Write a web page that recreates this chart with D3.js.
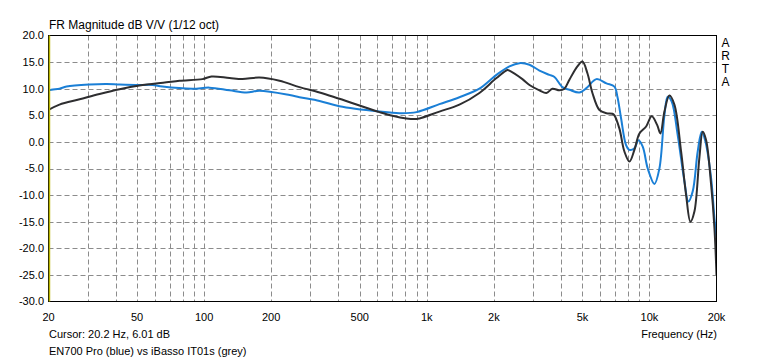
<!DOCTYPE html>
<html>
<head>
<meta charset="utf-8">
<script src="https://cdn.jsdelivr.net/npm/d3@7"></script>
<style>
  html, body { margin: 0; padding: 0; background: #fff; }
  svg { display: block; font-family: "Liberation Sans", Arial, sans-serif; }
</style>
</head>
<body>
<div id="chart"></div>
<script>
// EN700 Pro (blue): [Hz, dB]
const bluePoints = [
  [20, 9.2], [20.2, 9.7], [22.4, 10.0], [24.1, 10.4], [30.6, 10.8], [36.4, 10.9],
  [41.7, 10.8], [51.2, 10.7], [58.6, 10.7], [65, 10.4], [88.7, 10.0], [105.7, 10.2],
  [130, 9.7], [155, 9.3], [177, 9.6], [242, 8.8], [268, 8.4], [330, 7.7], [405, 6.7],
  [613, 5.7], [754, 5.4], [899, 5.6], [1139, 7.1], [1401, 8.4], [1723, 10.0],
  [2055, 12.6], [2350, 14.2], [2606, 14.8], [2891, 14.5], [3205, 13.4], [3554, 12.6],
  [3743, 12.2], [4065, 10.3], [4370, 9.8], [4846, 9.3], [5210, 10.1], [5778, 11.8],
  [6407, 11.0], [6959, 10.4], [7178, 8.5], [7458, 4.4], [7852, -0.6], [8128, -1.5],
  [8557, -1.2], [8920, 0.3], [9327, -0.9], [9822, -5.0], [10524, -7.9], [11082, -5.0],
  [11672, 5.0], [12076, 8.5], [12585, 7.6], [13389, 1.3], [14350, -7.4], [14958, -11.2],
  [15638, -9.3], [16469, -1.8], [17166, 1.9], [17780, 0.3], [18914, -6.8],
  [19572, -14.3], [20000, -18.0]
];

// iBasso IT01s (grey): [Hz, dB]
const greyPoints = [
  [20, 6.0], [22.4, 7.0], [27.6, 8.0], [33.9, 9.0], [41.7, 9.9], [51.2, 10.6],
  [67.7, 11.2], [77.5, 11.5], [98.3, 11.8], [107.9, 12.3], [130, 12.0], [148.6, 11.8],
  [177, 12.1], [218, 11.5], [268, 10.3], [330, 9.3], [405, 8.1], [613, 5.6], [701, 4.9],
  [810, 4.4], [899, 4.3], [927, 4.4], [1139, 5.7], [1401, 7.0], [1723, 9.2], [2055, 12.0],
  [2302, 13.5], [2350, 13.4], [2688, 11.8], [2891, 10.7], [3205, 9.7], [3444, 9.2],
  [3666, 10.0], [3942, 9.7], [4150, 10.0], [4370, 11.7], [4747, 14.2], [4999, 15.1],
  [5264, 12.9], [5544, 9.2], [5960, 6.0], [6407, 5.4], [6817, 5.3], [6959, 5.0],
  [7329, 2.5], [7716, -1.8], [8128, -3.7], [8557, -1.5], [9014, 1.6], [9660, 2.9],
  [10235, 4.8], [10822, 3.2], [11198, 1.6], [11672, 5.7], [12289, 8.7], [12940, 7.0],
  [13868, -1.8], [14607, -10.0], [15272, -15.0], [15915, -13.1], [16762, -2.9],
  [17345, 1.9], [17966, 0.3], [18914, -8.0], [19572, -16.1], [20000, -25.0]
];

const xTickValues = [20, 50, 100, 200, 500, 1000, 2000, 5000, 10000, 20000];
const xTickLabels = ["20", "50", "100", "200", "500", "1k", "2k", "5k", "10k", "20k"];
const xGridValues = [30, 40, 50, 60, 70, 80, 90, 100, 200, 300, 400, 500, 600, 700, 800, 900,
  1000, 2000, 3000, 4000, 5000, 6000, 7000, 8000, 9000, 10000];
const yTickValues = [20, 15, 10, 5, 0, -5, -10, -15, -20, -25, -30];
const cursorHz = 20.2;

const title = "FR Magnitude dB V/V (1/12 oct)";
const cursorText = "Cursor: 20.2 Hz, 6.01 dB";
const captionText = "EN700 Pro (blue) vs iBasso IT01s (grey)";
const xTitle = "Frequency (Hz)";
const brand = ["A", "R", "T", "A"];

const width = 765, height = 362;
const plot = { left: 48.5, right: 716.5, top: 35.5, bottom: 301.5 };

const svg = d3.select("#chart").append("svg")
  .attr("width", width)
  .attr("height", height);

const x = d3.scaleLog().domain([20, 20000]).range([plot.left, plot.right]);
const y = d3.scaleLinear().domain([-30, 20]).range([plot.bottom, plot.top]);

// grid
svg.append("g")
  .selectAll("line")
  .data(xGridValues)
  .join("line")
  .attr("x1", d => Math.round(x(d)) + 0.5)
  .attr("x2", d => Math.round(x(d)) + 0.5)
  .attr("y1", plot.top)
  .attr("y2", plot.bottom)
  .attr("stroke", "#8c8c8c")
  .attr("stroke-dasharray", "5,3");

svg.append("g")
  .selectAll("line")
  .data(yTickValues.filter(d => d > -30 && d < 20))
  .join("line")
  .attr("x1", plot.left)
  .attr("x2", plot.right)
  .attr("y1", d => Math.round(y(d)) + 0.5)
  .attr("y2", d => Math.round(y(d)) + 0.5)
  .attr("stroke", "#8c8c8c")
  .attr("stroke-dasharray", "5,3");

// curves
const line = d3.line()
  .x(d => x(d[0]))
  .y(d => y(d[1]))
  .curve(d3.curveCatmullRom.alpha(0.5));

svg.append("clipPath").attr("id", "clip")
  .append("rect")
  .attr("x", plot.left).attr("y", plot.top)
  .attr("width", plot.right - plot.left).attr("height", plot.bottom - plot.top);

const curves = svg.append("g").attr("clip-path", "url(#clip)");
curves.append("path")
  .datum(bluePoints)
  .attr("fill", "none")
  .attr("stroke", "#1a7fd6")
  .attr("stroke-width", 2)
  .attr("d", line);
curves.append("path")
  .datum(greyPoints)
  .attr("fill", "none")
  .attr("stroke", "#2e2e30")
  .attr("stroke-width", 2)
  .attr("d", line);

// frame
svg.append("rect")
  .attr("x", plot.left)
  .attr("y", plot.top)
  .attr("width", plot.right - plot.left)
  .attr("height", plot.bottom - plot.top)
  .attr("fill", "none")
  .attr("stroke", "#000");

// cursor line
svg.append("line")
  .attr("x1", x(cursorHz))
  .attr("x2", x(cursorHz))
  .attr("y1", plot.top)
  .attr("y2", plot.bottom)
  .attr("stroke", "#b8b400")
  .attr("stroke-width", 1.5);

// y labels
svg.append("g")
  .selectAll("text")
  .data(yTickValues)
  .join("text")
  .attr("x", 44)
  .attr("y", d => y(d))
  .attr("dy", "0.35em")
  .attr("text-anchor", "end")
  .style("font-size", "11px")
  .attr("fill", "#000")
  .text(d => d.toFixed(1));

// x labels
svg.append("g")
  .selectAll("text")
  .data(xTickValues)
  .join("text")
  .attr("x", d => x(d))
  .attr("y", 317)
  .attr("dy", "0.35em")
  .attr("text-anchor", "middle")
  .style("font-size", "11px")
  .attr("fill", "#000")
  .text((d, i) => xTickLabels[i]);

// title + captions
svg.append("text")
  .attr("x", 49).attr("y", 28.5)
  .style("font-size", "12px")
  .text(title);

svg.append("text")
  .attr("x", 49).attr("y", 334).attr("dy", "0.35em")
  .style("font-size", "11px")
  .text(cursorText);

svg.append("text")
  .attr("x", 49).attr("y", 351).attr("dy", "0.35em")
  .style("font-size", "11px")
  .text(captionText);

svg.append("text")
  .attr("x", 717).attr("y", 334).attr("dy", "0.35em")
  .attr("text-anchor", "end")
  .style("font-size", "11px")
  .text(xTitle);

svg.append("g")
  .selectAll("text")
  .data(brand)
  .join("text")
  .attr("x", 725.5)
  .attr("y", (d, i) => 43 + i * 13)
  .attr("dy", "0.35em")
  .attr("text-anchor", "middle")
  .style("font-size", "12px")
  .text(d => d);
</script>
</body>
</html>
